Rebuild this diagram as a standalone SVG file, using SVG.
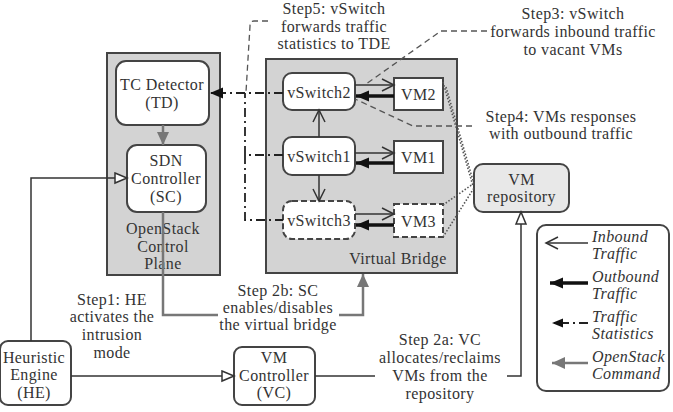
<svg xmlns="http://www.w3.org/2000/svg" width="673" height="412" viewBox="0 0 673 412">
<style>
text{font-family:"Liberation Serif","Times New Roman","DejaVu Serif",serif;font-size:16px;letter-spacing:0.4px;fill:#333;text-anchor:middle}
.it{font-style:italic;text-anchor:start}
.box{fill:#fff;stroke:#444;stroke-width:2}
.dbox{fill:#fff;stroke:#444;stroke-width:2;stroke-dasharray:6 3}
.cont{fill:#d3d3d3;stroke:#444;stroke-width:2}
.thin{fill:none;stroke:#333;stroke-width:1.5}
.thick{fill:none;stroke:#111;stroke-width:3.5}
.dd{fill:none;stroke:#222;stroke-width:1.8;stroke-dasharray:9 4 2 4}
.gray{fill:none;stroke:#777;stroke-width:2.5}
.lead{fill:none;stroke:#555;stroke-width:1.3;stroke-dasharray:6 4}
.dot{fill:none;stroke:#555;stroke-width:1.6;stroke-dasharray:1.5 1.8}
</style>
<defs>
<marker id="openV" markerUnits="userSpaceOnUse" markerWidth="16" markerHeight="14" refX="13" refY="7" orient="auto"><path d="M1,1 L13,7 L1,13" fill="none" stroke="#333" stroke-width="1.5"/></marker>
<marker id="solid" markerUnits="userSpaceOnUse" markerWidth="16" markerHeight="14" refX="13" refY="7" orient="auto"><path d="M0,1.5 L13,7 L0,12.5 Z" fill="#111"/></marker>
<marker id="solidS" markerUnits="userSpaceOnUse" markerWidth="14" markerHeight="12" refX="11" refY="6" orient="auto"><path d="M0,1.5 L11,6 L0,10.5 Z" fill="#111"/></marker>
<marker id="hollow" markerUnits="userSpaceOnUse" markerWidth="16" markerHeight="14" refX="13" refY="7" orient="auto"><path d="M1,2 L13,7 L1,12 Z" fill="#fff" stroke="#333" stroke-width="1.5"/></marker>
<marker id="grayT" markerUnits="userSpaceOnUse" markerWidth="16" markerHeight="16" refX="13" refY="8" orient="auto"><path d="M0,2 L13,8 L0,14 Z" fill="#777"/></marker>
</defs>

<g id="openstack-plane">
<rect class="cont" x="107" y="53" width="113" height="222"/>
<text x="163" y="234">OpenStack</text>
<text x="163" y="252">Control</text>
<text x="163" y="269">Plane</text>
</g>
<g id="virtual-bridge">
<rect class="cont" x="266" y="59" width="191" height="214"/>
<text x="398" y="264">Virtual Bridge</text>
</g>
<g id="td">
<rect class="box" x="116" y="61" width="93" height="64" rx="10"/>
<text x="162" y="90">TC Detector</text>
<text x="162" y="108">(TD)</text>
</g>
<g id="sc">
<rect class="box" x="127" y="145" width="79" height="67" rx="10"/>
<text x="166" y="166">SDN</text>
<text x="166" y="184">Controller</text>
<text x="166" y="202">(SC)</text>
</g>
<g id="vswitch2">
<rect class="box" x="283" y="73" width="72" height="37" rx="9"/>
<text x="319" y="98">vSwitch2</text>
</g>
<g id="vswitch1">
<rect class="box" x="283" y="137" width="72" height="38" rx="9"/>
<text x="319" y="162">vSwitch1</text>
</g>
<g id="vswitch3">
<rect class="dbox" x="283" y="201" width="72" height="38" rx="9"/>
<text x="319" y="226">vSwitch3</text>
</g>
<g id="vm2">
<rect class="box" x="394" y="78" width="49" height="32"/>
<text x="418.5" y="100">VM2</text>
</g>
<g id="vm1">
<rect class="box" x="394" y="141" width="49" height="32"/>
<text x="418.5" y="163">VM1</text>
</g>
<g id="vm3">
<rect class="dbox" x="394" y="204" width="49" height="33"/>
<text x="418.5" y="227">VM3</text>
</g>
<g id="vm-repository">
<rect x="474" y="164" width="95" height="48" rx="9" fill="#e8e8e8" stroke="#444" stroke-width="2"/>
<text x="521.5" y="185">VM</text>
<text x="521.5" y="202">repository</text>
</g>
<g id="he">
<rect class="box" x="0" y="341" width="71" height="64" rx="8"/>
<text x="34" y="363">Heuristic</text>
<text x="34" y="380">Engine</text>
<text x="34" y="398">(HE)</text>
</g>
<g id="vc">
<rect class="box" x="234" y="347" width="81" height="58" rx="8"/>
<text x="274" y="363">VM</text>
<text x="274" y="381">Controller</text>
<text x="274" y="398">(VC)</text>
</g>
<g id="legend">
<rect class="box" x="537" y="225" width="132" height="166" rx="9"/>
<line class="thin" x1="588" y1="243" x2="546" y2="243" marker-end="url(#openV)"/>
<line class="thick" x1="588" y1="283" x2="550" y2="283" marker-end="url(#solid)"/>
<line class="dd" x1="588" y1="323" x2="552" y2="323" stroke-dasharray="8 4 2 4" marker-end="url(#solidS)"/>
<line class="gray" x1="588" y1="363" x2="552" y2="363" marker-end="url(#grayT)"/>
<text class="it" x="592" y="242">Inbound</text>
<text class="it" x="592" y="259">Traffic</text>
<text class="it" x="592" y="282">Outbound</text>
<text class="it" x="592" y="299">Traffic</text>
<text class="it" x="592" y="322">Traffic</text>
<text class="it" x="592" y="339">Statistics</text>
<text class="it" x="592" y="362">OpenStack</text>
<text class="it" x="592" y="379">Command</text>
</g>

<g id="labels">
<text x="334" y="14">Step5: vSwitch</text>
<text x="334" y="32">forwards traffic</text>
<text x="334" y="49">statistics to TDE</text>
<text x="573" y="19">Step3: vSwitch</text>
<text x="573" y="37">forwards inbound traffic</text>
<text x="573" y="55">to vacant VMs</text>
<text x="561" y="122">Step4: VMs responses</text>
<text x="561" y="139">with outbound traffic</text>
<text x="112" y="305">Step1: HE</text>
<text x="112" y="322">activates the</text>
<text x="112" y="340">intrusion</text>
<text x="112" y="358">mode</text>
<text x="278" y="296">Step 2b: SC</text>
<text x="278" y="313">enables/disables</text>
<text x="278" y="330">the virtual bridge</text>
<text x="440" y="345">Step 2a: VC</text>
<text x="440" y="363">allocates/reclaims</text>
<text x="440" y="381">VMs from the</text>
<text x="440" y="399">repository</text>
</g>

<g id="connectors">
<line class="gray" x1="163" y1="125" x2="163" y2="145" marker-end="url(#grayT)"/>
<path class="gray" d="M163,212 V315 H218"/>
<path class="gray" d="M339,315 H363 V274" marker-end="url(#grayT)"/>
<path class="thin" d="M31,341 V178 H127" marker-end="url(#hollow)"/>
<line class="thin" x1="71" y1="376" x2="234" y2="376" marker-end="url(#hollow)"/>
<line class="thin" x1="315" y1="376" x2="375" y2="376"/>
<path class="thin" d="M507,376 H521 V212" marker-end="url(#hollow)"/>
<line class="thin" x1="319" y1="137" x2="319" y2="110" marker-end="url(#openV)"/>
<line class="thin" x1="319" y1="175" x2="319" y2="201" marker-end="url(#openV)"/>
<line class="thin" x1="355" y1="85" x2="394" y2="85" marker-end="url(#openV)"/>
<line class="thick" x1="394" y1="96" x2="356" y2="96" marker-end="url(#solid)"/>
<line class="thin" x1="355" y1="153" x2="394" y2="153" marker-end="url(#openV)"/>
<line class="thick" x1="394" y1="163" x2="356" y2="163" marker-end="url(#solid)"/>
<line class="thin" x1="355" y1="214" x2="394" y2="214" marker-end="url(#openV)"/>
<line class="thick" x1="394" y1="225" x2="356" y2="225" marker-end="url(#solid)"/>
<line class="dd" x1="283" y1="93" x2="210" y2="93" marker-end="url(#solid)"/>
<path class="dd" d="M283,155 H245 V220 H283"/>
<line class="dd" x1="245" y1="155" x2="245" y2="93"/>
<path class="lead" d="M268,21 H254 Q250,21 250,26 L246,92"/>
<path class="lead" d="M487,31 H441 L366,84"/>
<path class="lead" d="M472,126 H413 L355,99"/>
<path class="dot" d="M443,82 L473,186"/>
<path class="dot" d="M446,87 L474,184"/>
<path class="dot" d="M443,205 L473,184"/>
<path class="dot" d="M443,237 L474,188"/>
</g>
</svg>
